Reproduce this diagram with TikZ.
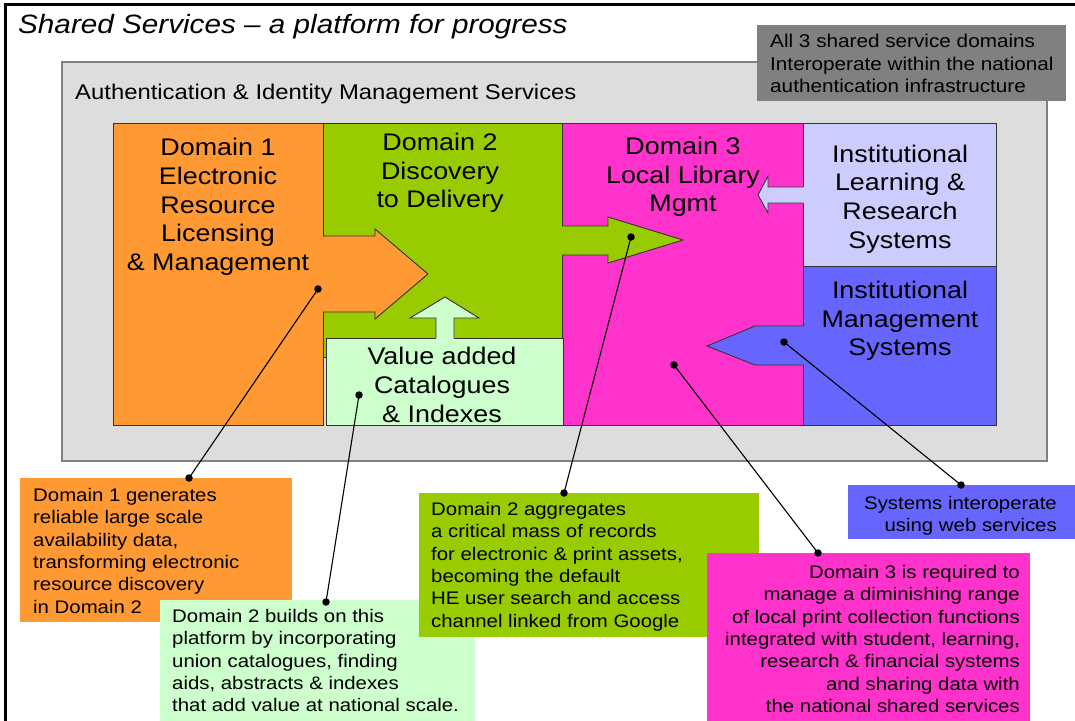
\documentclass[tikz,border=0pt]{standalone}
\usepackage{fontspec}
\setmainfont{Liberation Sans}[FakeStretch=1.12]
\definecolor{dorange}{HTML}{FF9933}
\definecolor{dgreen}{HTML}{99CC00}
\definecolor{dpink}{HTML}{FF33CC}
\definecolor{dlav}{HTML}{CCCCFF}
\definecolor{dblue}{HTML}{6666FF}
\definecolor{dlight}{HTML}{CCFFCC}
\definecolor{dbg}{HTML}{DDDDDD}
\definecolor{dgray}{HTML}{808080}
\begin{document}
\begin{tikzpicture}[x=1pt,y=-1pt,
  outl/.style={draw=black!80, line width=0.9pt},
  lbl/.style={inner sep=0pt, align=center, font=\fontsize{24}{28.7}\selectfont},
  note/.style={inner sep=0pt, font=\fontsize{18.2}{22.4}\selectfont},
  dot/.style={circle, fill=black, inner sep=0pt, minimum size=7.5pt},
  lead/.style={line width=1.1pt, black}]
\useasboundingbox (0,0) rectangle (1075,720);
\fill[white] (0,0) rectangle (1075,720);
% outer frame
\draw[line width=3pt] (5,730) -- (5,4) -- (1090,4);
% title
\node[anchor=west, inner sep=0pt, font=\fontsize{26.5}{30}\selectfont\itshape] (title) at (18,27) {Shared Services \textendash{} a platform for progress};
% authentication box
\draw[fill=dbg, draw=dgray, line width=1.6pt] (62,62) rectangle (1047,461);
\node[anchor=west, inner sep=0pt, font=\fontsize{21.3}{25}\selectfont] (auth) at (75,94) {Authentication \& Identity Management Services};
% note box top right
\fill[dgray] (757,25) rectangle (1066,101);
\node[anchor=north west, align=left, inner sep=0pt, font=\fontsize{18.5}{22.5}\selectfont] (allnote) at (770,34) {All 3 shared service domains\\Interoperate within the national\\authentication infrastructure};
% domain rectangles
\draw[outl, fill=dorange] (113,123) rectangle (323,425);
\draw[outl, fill=dgreen] (323,123) rectangle (562,357);
\draw[outl, fill=dpink] (562,123) rectangle (803,425);
\draw[outl, fill=dlav] (803,123) rectangle (996,266);
\draw[outl, fill=dblue] (803,266) rectangle (996,425);
% orange arrow
\fill[dorange] (321,236) -- (375,236) -- (375,229) -- (428,274) -- (375,319) -- (375,312) -- (321,312) -- cycle;
\draw[outl] (323,236) -- (375,236) -- (375,229) -- (428,274) -- (375,319) -- (375,312) -- (323,312);
% green arrow
\fill[dgreen] (560,226) -- (608,226) -- (608,217) -- (683,240) -- (608,263) -- (608,255) -- (560,255) -- cycle;
\draw[outl] (562,226) -- (608,226) -- (608,217) -- (683,240) -- (608,263) -- (608,255) -- (562,255);
% lavender arrow
\fill[dlav] (805,187) -- (768,187) -- (768,176) -- (758,195) -- (768,213) -- (768,203) -- (805,203) -- cycle;
\draw[outl] (803,187) -- (768,187) -- (768,176) -- (758,195) -- (768,213) -- (768,203) -- (803,203);
% blue arrow
\fill[dblue] (805,326) -- (755,326) -- (707,346) -- (755,365) -- (805,365) -- cycle;
\draw[outl] (803,326) -- (755,326) -- (707,346) -- (755,365) -- (803,365);
% value added box and up arrow
\draw[outl, fill=dlight] (326,338) rectangle (563,425);
\fill[dlight] (436,340) -- (436,318) -- (410,318) -- (445,297) -- (479,318) -- (454,318) -- (454,340) -- cycle;
\draw[outl] (436,338) -- (436,318) -- (410,318) -- (445,297) -- (479,318) -- (454,318) -- (454,338);
% domain labels
\node[lbl] (d1) at (218,207) {Domain 1\\Electronic\\Resource\\Licensing\\\& Management};
\node[lbl] (d2) at (440,173) {Domain 2\\Discovery\\to Delivery};
\node[lbl] (d3) at (683,177) {Domain 3\\Local Library\\Mgmt};
\node[lbl] (ilr) at (900,199) {Institutional\\Learning \&\\Research\\Systems};
\node[lbl] (ims) at (900,321) {Institutional\\Management\\Systems};
\node[lbl] (val) at (442,385) {Value added\\Catalogues\\\& Indexes};
% callout boxes
\fill[dorange] (20,478) rectangle (292,622);
\fill[dlight] (160,600) rectangle (475,722);
\fill[dgreen] (419,493) rectangle (759,637);
\fill[dpink] (707,553) rectangle (1030,722);
\fill[dblue] (848,485) rectangle (1077,539);
% callout texts
\node[note, anchor=north west, align=left] (c1) at (33,488) {Domain 1 generates\\reliable large scale\\availability data,\\transforming electronic\\resource discovery\\in Domain 2};
\node[note, anchor=north west, align=left] (c2) at (172,609) {Domain 2 builds on this\\platform by incorporating\\union catalogues, finding\\aids, abstracts \& indexes\\that add value at national scale.};
\node[note, anchor=north west, align=left] (c3) at (431,502) {Domain 2 aggregates\\a critical mass of records\\for electronic \& print assets,\\becoming the default\\HE user search and access\\channel linked from Google};
\node[note, anchor=north east, align=right] (c4) at (1020,565) {Domain 3 is required to\\manage a diminishing range\\of local print collection functions\\integrated with student, learning,\\research \& financial systems\\and sharing data with\\the national shared services};
\node[note, anchor=north east, align=right] (c5) at (1057,496) {Systems interoperate\\using web services};
% dots
\node[dot] (a1) at (318,289) {};
\node[dot] (b1) at (189,478) {};
\node[dot] (a2) at (359,395) {};
\node[dot] (b2) at (326,602) {};
\node[dot] (a3) at (631,237) {};
\node[dot] (b3) at (564,493) {};
\node[dot] (a4) at (674,365) {};
\node[dot] (b4) at (818,553) {};
\node[dot] (a5) at (784,342) {};
\node[dot] (b5) at (961,485) {};
% leaders
\draw[lead] (a1.center) -- (b1.center);
\draw[lead] (a2.center) -- (b2.center);
\draw[lead] (a3.center) -- (b3.center);
\draw[lead] (a4.center) -- (b4.center);
\draw[lead] (a5.center) -- (b5.center);
\end{tikzpicture}
\end{document}
